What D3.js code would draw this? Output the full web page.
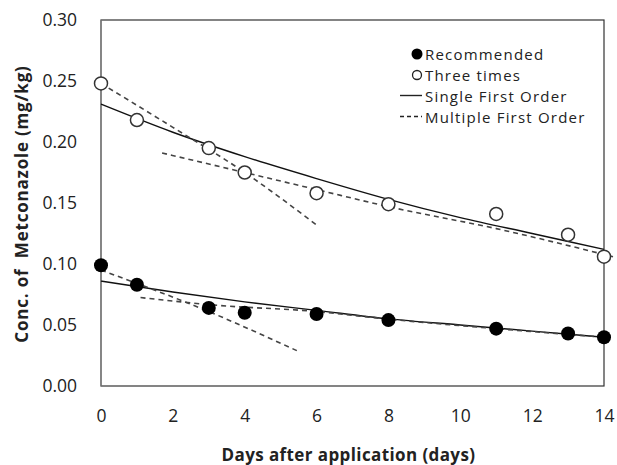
<!DOCTYPE html>
<html>
<head>
<meta charset="utf-8">
<script src="https://cdn.jsdelivr.net/npm/d3@7"></script>
<style>
  body { margin: 0; background: #fff; }
  text { font-family: "Open Sans", "Noto Sans", sans-serif; fill: #222; }
</style>
</head>
<body>
<div id="chart"></div>
<script>
    // measured points
    var days = [0, 1, 3, 4, 6, 8, 11, 13, 14];
    var recommended = [0.099, 0.083, 0.064, 0.060, 0.059, 0.054, 0.047, 0.043, 0.040];
    var threeTimes = [0.248, 0.218, 0.195, 0.175, 0.158, 0.149, 0.141, 0.124, 0.106];

    // single first order curves
    var sfoDays = [0, 2, 4, 6, 8, 10, 12, 14];
    var sfoThree = [0.231, 0.208, 0.188, 0.170, 0.153, 0.138, 0.125, 0.112];
    var sfoRec = [0.086, 0.077, 0.069, 0.062, 0.055, 0.050, 0.045, 0.040];

    // multiple first order, two phases each
    var mfoThreeADays = [0, 2, 4, 6];
    var mfoThreeA = [0.248, 0.212, 0.175, 0.132];
    var mfoThreeBDays = [1.7, 4, 6, 8, 11, 14.25];
    var mfoThreeB = [0.191, 0.175, 0.161, 0.147, 0.129, 0.106];
    var mfoRecADays = [0, 3, 5.45];
    var mfoRecA = [0.095, 0.061, 0.029];
    var mfoRecBDays = [1.1, 3.3, 5.8, 8, 11, 14];
    var mfoRecB = [0.0725, 0.066, 0.0615, 0.0548, 0.047, 0.040];

    var xTicks = [0, 2, 4, 6, 8, 10, 12, 14];
    var yTicks = [0, 0.05, 0.10, 0.15, 0.20, 0.25, 0.30];

    var width = 617,
    height = 465,
    margin = {top: 20, right: 13, bottom: 79, left: 101};

    var x = d3.scaleLinear().domain([0, 14]).range([margin.left, width - margin.right]);
    var y = d3.scaleLinear().domain([0, 0.30]).range([height - margin.bottom, margin.top]);

    var svg = d3.select('#chart').append("svg")
      .attr("width", width)
      .attr("height", height);

    // frame
    svg.append("rect")
      .attr("x", x(0)).attr("y", y(0.30))
      .attr("width", x(14) - x(0)).attr("height", y(0) - y(0.30))
      .attr("fill", "none").attr("stroke", "#333").attr("stroke-width", 1.2);
    svg.append("line")
      .attr("x1", x(0)).attr("x2", x(0)).attr("y1", y(0.30)).attr("y2", y(0))
      .attr("stroke", "#888").attr("stroke-width", 1.2);

    var xAxis = svg.append("g")
      .attr("transform", "translate(0," + y(0) + ")")
      .call(d3.axisBottom(x).tickValues(xTicks).tickSize(0).tickPadding(24));
    xAxis.select(".domain").remove();
    xAxis.selectAll("text").style("font-size", "17.5px").style("fill", "#222");

    var yAxis = svg.append("g")
      .attr("transform", "translate(" + x(0) + ",0)")
      .call(d3.axisLeft(y).tickValues(yTicks).tickFormat(d3.format(".2f")).tickSize(0).tickPadding(24));
    yAxis.select(".domain").remove();
    yAxis.selectAll("text").style("font-size", "17.5px").style("fill", "#222");

    svg.append("text")
      .attr("x", (x(0) + x(14)) / 2 - 4)
      .attr("y", 461)
      .attr("text-anchor", "middle")
      .style("font-size", "17px").style("font-weight", "bold")
      .style("letter-spacing", "0.4px")
      .text("Days after application (days)");

    svg.append("text")
      .attr("transform", "translate(28," + 204 + ") rotate(-90)")
      .attr("text-anchor", "middle")
      .style("font-size", "17px").style("font-weight", "bold")
      .style("letter-spacing", "0.8px")
      .style("white-space", "pre")
      .text("Conc. of  Metconazole (mg/kg)");

    var smooth = d3.line()
      .curve(d3.curveMonotoneX)
      .x(function(d) { return x(d[0]); })
      .y(function(d) { return y(d[1]); });

    function pairs(xs, ys) {
        return xs.map(function(d, i) { return [d, ys[i]]; });
    }

    // solid fits
    [sfoThree, sfoRec].forEach(function(s) {
        svg.append("path")
          .attr("d", smooth(pairs(sfoDays, s)))
          .attr("fill", "none").attr("stroke", "#111").attr("stroke-width", 1.4);
    });

    // dashed fits
    [[mfoThreeADays, mfoThreeA], [mfoThreeBDays, mfoThreeB], [mfoRecADays, mfoRecA], [mfoRecBDays, mfoRecB]].forEach(function(s) {
        svg.append("path")
          .attr("d", smooth(pairs(s[0], s[1])))
          .attr("fill", "none").attr("stroke", "#444").attr("stroke-width", 1.6)
          .attr("stroke-dasharray", "5,4");
    });

    svg.selectAll(".three")
      .data(pairs(days, threeTimes))
      .enter().append("circle")
      .attr("class", "three")
      .attr("cx", function(d) { return x(d[0]); })
      .attr("cy", function(d) { return y(d[1]); })
      .attr("r", 6.5)
      .attr("fill", "#fff").attr("stroke", "#333").attr("stroke-width", 1.5);

    svg.selectAll(".rec")
      .data(pairs(days, recommended))
      .enter().append("circle")
      .attr("class", "rec")
      .attr("cx", function(d) { return x(d[0]); })
      .attr("cy", function(d) { return y(d[1]); })
      .attr("r", 7)
      .attr("fill", "#000");

    // legend
    var legend = svg.append("g");
    var items = [
      {name: "Recommended", type: "filled"},
      {name: "Three times", type: "open"},
      {name: "Single First Order", type: "solid"},
      {name: "Multiple First Order", type: "dashed"}
    ];
    items.forEach(function(it, i) {
        var cy = 54 + i * 21;
        if (it.type == "filled") {
            legend.append("circle").attr("cx", 417).attr("cy", cy).attr("r", 5.5).attr("fill", "#000");
        } else if (it.type == "open") {
            legend.append("circle").attr("cx", 417).attr("cy", cy).attr("r", 4.5)
              .attr("fill", "#fff").attr("stroke", "#222").attr("stroke-width", 1.3);
        } else {
            legend.append("line").attr("x1", 400).attr("x2", 422).attr("y1", cy - 0.5).attr("y2", cy - 0.5)
              .attr("stroke", "#222").attr("stroke-width", 1.4)
              .attr("stroke-dasharray", it.type == "dashed" ? "4,3" : null);
        }
        legend.append("text")
          .attr("x", 425).attr("y", cy + 5.5)
          .style("font-size", "15px")
          .style("letter-spacing", "1.2px")
          .text(it.name);
    });
</script>
</body>
</html>
